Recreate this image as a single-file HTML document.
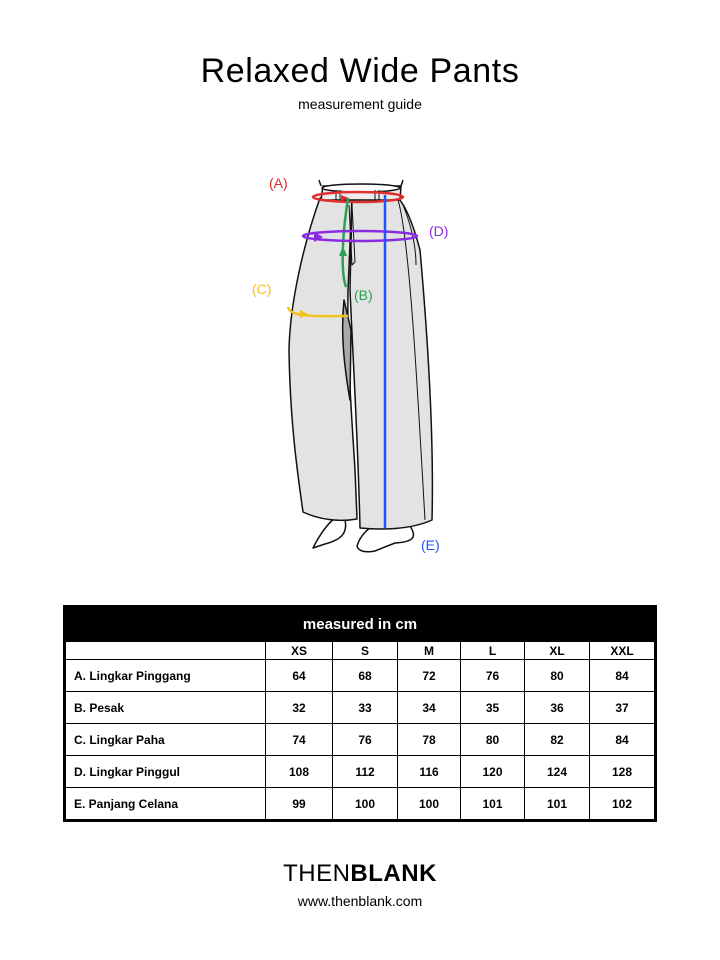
<!DOCTYPE html>
<html><head><style>
body{margin:0;width:720px;height:960px;background:#fff;font-family:"Liberation Sans",sans-serif;position:relative;overflow:hidden}
.t{position:absolute;left:0;width:720px;text-align:center}
table{position:absolute;left:63px;top:605px;width:594px;border-collapse:collapse;border:3px solid #000;font-size:12px;font-weight:bold;table-layout:fixed}
td{border:1px solid #000;text-align:center;padding:0}
td:first-child{text-align:left;padding-left:8px}
tr.r td{height:31px}
</style></head><body>
<div class="t" style="top:52px;font-size:34px;letter-spacing:0.6px">Relaxed Wide Pants</div>
<div class="t" style="top:96px;font-size:14px">measurement guide</div>
<svg style="position:absolute;left:0;top:0" width="720" height="580">
<g stroke="#111" stroke-width="1.5" fill="#e3e3e3" stroke-linejoin="round">
<path d="M313,548 C318,538 325,526 335,518 L345,520 C348,534 340,540 325,544 Z" fill="#fff"/>
<path d="M357,546 C360,536 368,528 375,525 L410,526 C418,538 412,542 395,543 L375,551 C365,553 358,551 357,546 Z" fill="#fff"/>
<path d="M320,198 C305,240 290,300 289,350 C290,420 297,470 303,512 C320,520 340,522 357,519 L355,470 C352,420 347,360 348,290 L352,198 Z"/>
<path d="M352,198 L350,290 C353,360 358,440 360,528 C380,530 410,530 432,520 C434,440 428,340 420,250 C412,220 405,205 398,198 Z"/>
<path d="M344,300 C341,330 343,360 350,400 L351,330 Z" fill="#aaa"/>
<path d="M323,186 L321,200 L400,200 L401,186 Z" fill="#eee"/>
<ellipse cx="361" cy="188" rx="39" ry="4" fill="#fff"/>
<path d="M321,186 L319,180 M401,186 L403,180" fill="none"/>
<path d="M336,190 L336,200 M340,190 L340,200 M375,190 L375,200 M379,190 L379,200" fill="none" stroke-width="1"/>
<path d="M349,205 L352,265 L355,262 L352,205" fill="none" stroke-width="1"/>
<path d="M398,200 C410,240 418,400 425,520 M403,205 C413,230 416,250 416,265" fill="none" stroke-width="1"/>
</g>
<g fill="none" stroke-width="2.5">
<ellipse cx="358" cy="197" rx="45" ry="5" stroke="#e03030"/>
<path d="M348,198 C343,230 340,270 346,287" stroke="#2ea055"/>
<ellipse cx="360" cy="236" rx="57" ry="5" stroke="#8a2be2"/>
<path d="M288,307 C290,318 320,316 348,316" stroke="#f2c21b"/>
<line x1="385" y1="195" x2="385" y2="528" stroke="#1f55ff"/>
</g>
<path d="M341,195 L349,198 L341,201Z" fill="#e03030"/>
<path d="M339,256 L343,246 L347,256Z" fill="#2ea055"/>
<path d="M314,232 L323,237 L314,242Z" fill="#8a2be2"/>
<path d="M300,310 L308,314 L300,318Z" fill="#f2c21b"/>
<g font-family="Liberation Sans" font-size="14">
<text x="269" y="188" fill="#d42a2a">(A)</text>
<text x="354" y="300" fill="#2ea055">(B)</text>
<text x="252" y="294" fill="#f2c21b">(C)</text>
<text x="429" y="236" fill="#8a2be2">(D)</text>
<text x="421" y="550" fill="#1f55ff">(E)</text>
</g>
</svg>
<table>
<colgroup><col style="width:201px"><col style="width:67px"><col style="width:65px"><col style="width:63px"><col style="width:64px"><col style="width:65px"><col></colgroup>
<tr><td colspan="7" style="background:#000;color:#fff;height:33px;font-size:15px;text-align:center;padding:0">measured in cm</td></tr>
<tr><td style="height:17px"></td><td>XS</td><td>S</td><td>M</td><td>L</td><td>XL</td><td>XXL</td></tr>
<tr class="r"><td>A. Lingkar Pinggang</td><td>64</td><td>68</td><td>72</td><td>76</td><td>80</td><td>84</td></tr>
<tr class="r"><td>B. Pesak</td><td>32</td><td>33</td><td>34</td><td>35</td><td>36</td><td>37</td></tr>
<tr class="r"><td>C. Lingkar Paha</td><td>74</td><td>76</td><td>78</td><td>80</td><td>82</td><td>84</td></tr>
<tr class="r"><td>D. Lingkar Pinggul</td><td>108</td><td>112</td><td>116</td><td>120</td><td>124</td><td>128</td></tr>
<tr class="r"><td>E. Panjang Celana</td><td>99</td><td>100</td><td>100</td><td>101</td><td>101</td><td>102</td></tr>
</table>
<div class="t" style="top:860px;font-size:24px;letter-spacing:0.5px"><span style="font-weight:normal">THEN</span><b>BLANK</b></div>
<div class="t" style="top:893px;font-size:14px">www.thenblank.com</div>
</body></html>
